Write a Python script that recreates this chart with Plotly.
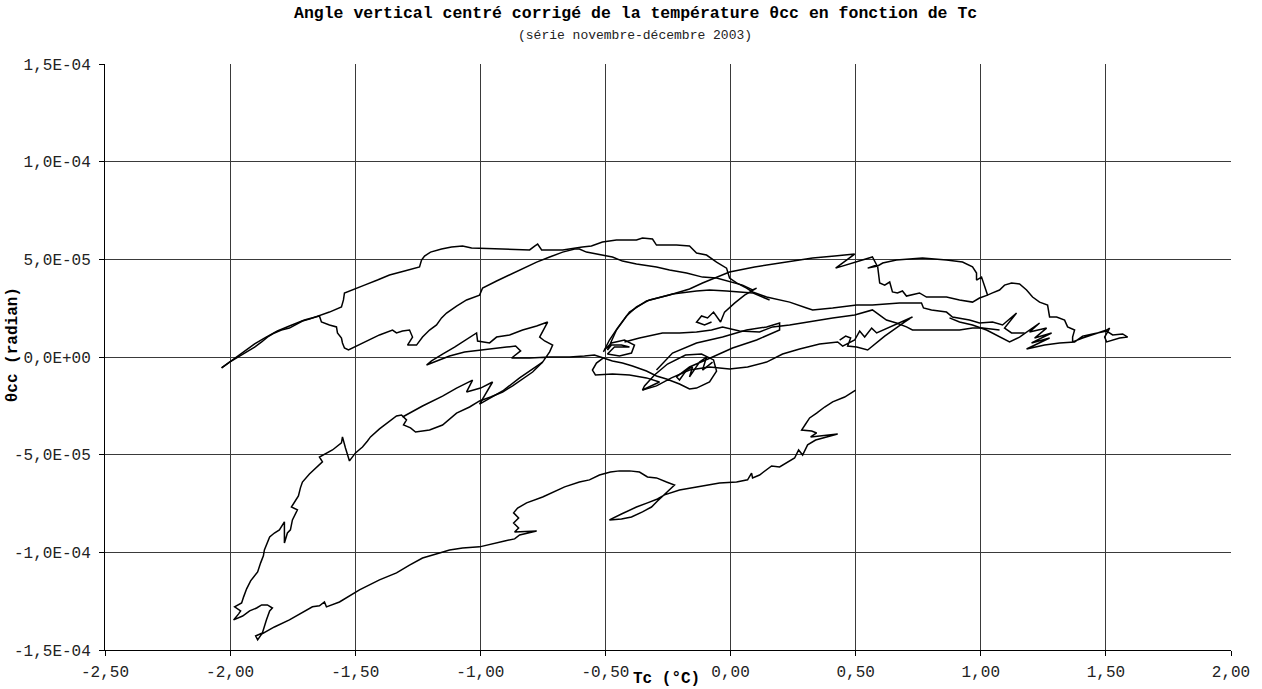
import plotly.graph_objects as go

# Values: Tc (°C) and theta_cc in units of 1e-5 radian
# Stroke A: lower path from (0.5,-1.7e-5) down to the bottom, back up the left side, feathers, zero line, centre
tcA = [0.500,0.456,0.408,0.376,0.344,0.316,0.300,0.284,0.324,0.344,0.320,0.428,0.340,0.308,0.288,0.272,0.256,0.228,0.196,0.164,
       0.140,0.116,0.088,0.084,0.068,0.024,-0.044,-0.136,-0.204,-0.264,-0.292,-0.332,-0.376,-0.436,-0.484,-0.436,-0.396,-0.352,-0.316,-0.292,
       -0.264,-0.224,-0.256,-0.296,-0.332,-0.364,-0.404,-0.444,-0.480,-0.524,-0.564,-0.604,-0.663,-0.715,-0.751,-0.815,-0.851,-0.867,-0.847,-0.867,
       -0.847,-0.863,-0.775,-0.843,-0.863,-0.903,-0.963,-1.003,-1.071,-1.123,-1.163,-1.231,-1.283,-1.335,-1.403,-1.483,-1.563,-1.615,-1.623,-1.643,
       -1.671,-1.723,-1.763,-1.823,-1.874,-1.890,-1.898,-1.871,-1.863,-1.855,-1.842,-1.831,-1.851,-1.874,-1.894,-1.922,-1.950,-1.986,-1.966,-1.958,
       -1.982,-1.954,-1.946,-1.934,-1.918,-1.898,-1.890,-1.878,-1.867,-1.863,-1.851,-1.842,-1.823,-1.803,-1.783,-1.783,-1.771,-1.759,-1.751,-1.739,
       -1.731,-1.755,-1.739,-1.727,-1.719,-1.711,-1.683,-1.659,-1.631,-1.643,-1.591,-1.555,-1.551,-1.539,-1.523,-1.499,-1.471,-1.451,-1.439,-1.403,
       -1.363,-1.335,-1.315,-1.295,-1.307,-1.279,-1.259,-1.203,-1.151,-1.095,-1.043,-1.003,-0.959,-0.911,-0.871,-0.835,-0.791,-0.751,-0.723,-0.711,
       -0.743,-0.763,-0.731,-0.775,-0.831,-0.883,-0.935,-0.963,-1.011,-1.015,-1.063,-1.103,-1.151,-1.195,-1.215,-1.175,-1.123,-1.063,-1.003,-0.943,
       -0.895,-0.859,-0.839,-0.875,-0.803,-0.723,-0.643,-0.584,-0.544,-0.508,-0.472,-0.432,-0.392,-0.336,-0.296,-0.256,-0.204,-0.164,-0.136,-0.084,
       -0.056,-0.068,-0.116,-0.180,-0.252,-0.304,-0.344,-0.352,-0.296,-0.236,-0.164,-0.084,-0.004,0.068,0.144,0.208,0.276,0.356,0.428,0.448,
       0.496,0.516,0.536,0.564,0.584,0.727,0.695,0.616,0.548,0.504,0.468,0.480,0.460,0.436]
thA = [-1.69,-2.05,-2.30,-2.56,-2.87,-3.12,-3.43,-3.74,-3.79,-3.89,-4.09,-3.94,-4.25,-4.50,-5.02,-4.76,-5.17,-5.37,-5.63,-5.58,
       -5.83,-6.04,-6.19,-5.94,-6.29,-6.40,-6.45,-6.65,-6.81,-7.06,-7.27,-7.47,-7.68,-8.04,-8.34,-8.29,-8.19,-7.93,-7.68,-7.37,
       -7.01,-6.55,-6.40,-6.19,-6.14,-5.89,-5.83,-5.83,-5.89,-6.04,-6.29,-6.40,-6.65,-6.96,-7.17,-7.47,-7.73,-7.98,-8.24,-8.50,
       -8.75,-8.96,-8.91,-9.11,-9.31,-9.42,-9.62,-9.72,-9.78,-9.88,-10.03,-10.29,-10.65,-11.05,-11.41,-11.92,-12.54,-12.79,-12.54,-12.74,
       -12.79,-13.15,-13.46,-13.82,-14.18,-14.48,-14.28,-14.13,-13.77,-13.46,-13.00,-12.85,-12.69,-12.69,-12.85,-13.00,-13.26,-13.46,-13.15,-13.00,
       -12.79,-12.59,-12.28,-11.87,-11.46,-11.16,-11.00,-10.54,-10.18,-9.88,-9.47,-9.21,-9.01,-8.85,-8.44,-9.52,-9.01,-8.85,-8.34,-7.98,
       -7.83,-7.68,-7.32,-7.11,-6.70,-6.40,-5.99,-5.68,-5.37,-5.12,-4.76,-4.40,-4.09,-4.66,-5.32,-4.91,-4.61,-4.30,-4.09,-3.68,
       -3.28,-3.02,-2.97,-3.22,-3.48,-3.63,-3.84,-3.74,-3.48,-2.87,-2.56,-2.25,-2.05,-1.79,-1.48,-1.18,-0.77,-0.26,0.26,0.61,
       0.82,1.02,1.79,1.59,1.38,1.13,1.02,0.72,0.82,1.23,0.82,0.51,0.15,-0.20,-0.41,-0.20,0.05,0.26,0.36,0.46,
       0.51,0.56,0.31,-0.05,-0.05,0.00,0.00,0.05,0.10,-0.05,-0.20,-0.31,-0.46,-0.72,-0.97,-1.13,-1.38,-1.64,-1.59,-1.28,
       -0.72,-0.15,0.15,0.10,-0.36,-0.92,-1.48,-1.69,-1.48,-1.07,-0.67,-0.51,-0.61,-0.51,-0.26,0.15,0.41,0.67,0.77,0.56,
       0.87,1.33,1.02,1.48,1.23,2.05,1.79,1.07,0.36,0.51,0.56,0.97,1.07,0.87]

# Stroke B: upper edge of the lower-left feather
tcB = [-1.311,-1.231,-1.151,-1.095,-1.031,-1.055,-0.999,-0.951,-1.003,-0.911,-0.843,-0.783,-0.751]
thB = [-3.07,-2.51,-2.00,-1.59,-1.18,-1.79,-1.59,-1.28,-2.41,-1.74,-1.07,-0.56,-0.26]

# Stroke C: upper line from the left tip across the top to the right
tcC = [-2.034,-2.002,-1.962,-1.934,-1.902,-1.874,-1.851,-1.823,-1.795,-1.763,-1.735,-1.711,-1.683,-1.643,-1.603,-1.555,-1.547,-1.543,-1.511,-1.463,
       -1.411,-1.363,-1.303,-1.243,-1.235,-1.223,-1.199,-1.155,-1.115,-1.071,-1.035,-0.923,-0.803,-0.783,-0.771,-0.755,-0.671,-0.592,-0.556,-0.512,
       -0.456,-0.376,-0.352,-0.312,-0.296,-0.216,-0.164,-0.136,-0.096,-0.056,-0.016,-0.004,0.024,0.064,0.088,0.144,0.236,0.304,0.328,0.408,
       0.504,0.567,0.675,0.763,0.771,0.803,0.863,0.887,0.955,0.995,1.047,1.087,1.143,1.095,1.123,1.175]
thC = [-0.56,-0.26,0.05,0.26,0.51,0.77,1.02,1.23,1.38,1.48,1.69,1.84,1.94,2.10,2.30,2.56,2.92,3.28,3.43,3.68,
       3.94,4.20,4.40,4.61,4.96,5.17,5.37,5.53,5.63,5.68,5.58,5.53,5.48,5.68,5.78,5.48,5.48,5.63,5.68,5.89,
       5.99,5.99,6.09,6.04,5.73,5.73,5.68,5.32,5.22,4.86,4.55,4.04,3.79,3.53,3.33,3.07,2.81,2.51,2.41,2.51,
       2.66,2.66,2.76,2.76,2.51,2.41,2.30,2.05,1.89,1.74,1.79,1.64,2.25,1.48,1.23,1.23]

# Stroke D: return line from the left tip, rising to the top, then the zigzag in the centre
tcD = [-2.034,-1.994,-1.950,-1.902,-1.863,-1.811,-1.763,-1.703,-1.643,-1.635,-1.603,-1.575,-1.571,-1.555,-1.551,-1.543,-1.527,-1.511,-1.475,-1.443,
       -1.403,-1.351,-1.335,-1.311,-1.283,-1.271,-1.291,-1.255,-1.231,-1.203,-1.175,-1.155,-1.135,-1.095,-1.055,-1.003,-0.991,-0.935,-0.883,-0.823,
       -0.775,-0.723,-0.671,-0.623,-0.604,-0.576,-0.512,-0.472,-0.432,-0.376,-0.296,-0.244,-0.176,-0.112,-0.056,-0.004,0.048,0.088,0.104,0.056,
       0.016,-0.024,-0.040,-0.068,-0.092,-0.116,-0.136,-0.104,-0.076]
thD = [-0.56,-0.20,0.20,0.67,0.97,1.33,1.59,1.89,2.10,1.79,1.64,1.54,1.23,0.97,0.72,0.46,0.36,0.46,0.67,0.87,
       1.13,1.38,1.23,1.33,1.38,1.02,0.61,0.61,1.02,1.38,1.64,2.00,2.25,2.61,2.92,3.17,3.53,3.89,4.20,4.55,
       4.86,5.12,5.37,5.53,5.53,5.37,5.22,5.12,4.91,4.76,4.61,4.45,4.30,4.09,4.04,3.84,3.68,3.43,3.53,3.17,
       2.76,2.30,1.79,2.30,2.00,2.10,1.79,1.64,1.79]

# Stroke E: rising line to the right, upper-right loop, right end and hatched return
tcE = [-0.508,-0.484,-0.452,-0.416,-0.376,-0.324,-0.244,-0.164,-0.112,-0.056,-0.004,0.096,0.196,0.328,0.416,0.496,0.420,0.496,0.567,0.584,
       0.548,0.588,0.608,0.663,0.715,0.767,0.863,0.927,0.967,0.983,0.983,1.003,1.015,1.027,1.047,1.075,1.095,1.123,1.155,1.183,
       1.207,1.235,1.267,1.275,1.303,1.335,1.347,1.375,1.367,1.367,1.407,1.463,1.503,1.515,1.495,1.503,1.527,1.555,1.587,1.567,
       1.527,1.503,1.447,1.407,1.375,1.315,1.255,1.183,1.275,1.203,1.283,1.215,1.263,1.195,1.235,1.155,1.115,1.075,1.023,0.967,
       0.915,0.875]
thE = [0.26,0.87,1.48,2.10,2.56,2.92,3.17,3.48,3.79,4.09,4.35,4.61,4.81,5.07,5.17,5.27,4.55,4.86,5.12,4.71,
       4.55,4.66,4.81,4.96,5.02,5.07,4.96,4.86,4.61,4.30,3.94,4.09,3.63,3.17,3.28,3.43,3.68,3.79,3.74,3.43,
       3.07,2.81,2.66,2.05,2.05,1.89,1.54,1.38,1.02,0.77,0.97,1.23,1.38,1.48,1.02,0.77,0.87,0.97,1.02,1.18,
       1.13,1.33,1.18,1.07,0.77,0.72,0.61,0.41,0.97,0.72,1.23,0.97,1.48,1.28,1.74,1.02,0.77,1.02,1.38,1.64,
       1.79,2.00]

# Stroke F: zigzag inside the upper-right loop
tcF = [0.588,0.596,0.616,0.636,0.647,0.667,0.687,0.703,0.755,0.783,0.863,0.915,0.967,0.995,1.027]
thF = [4.61,3.79,3.68,3.84,3.33,3.28,3.38,3.12,3.28,3.07,3.07,2.92,2.81,3.02,3.17]

# Stroke G: middle line from the centre to the right
tcG = [-0.424,-0.364,-0.272,-0.204,-0.136,-0.076,-0.032,0.036,0.116,0.168,0.236,0.304,0.408,0.496,0.567,0.623,0.663,0.703,0.727,0.835,
       0.915,0.967,1.007,1.075]
thG = [0.77,0.97,1.23,1.23,1.28,1.38,1.54,1.33,1.28,1.54,1.64,1.79,2.00,2.15,2.41,1.89,1.74,1.54,1.38,1.38,
       1.38,1.48,1.48,1.38]

# Stroke H: loops in the centre
tcH = [-0.296,-0.232,-0.136,-0.032,0.064,0.144,0.196,0.196,0.104,0.008,-0.072,-0.164,-0.216,-0.204,-0.176,-0.152,-0.164,-0.124,-0.096,-0.112,
       -0.072]
thH = [-0.67,0.20,0.72,1.02,1.38,1.54,1.74,1.38,0.87,0.46,0.00,-0.51,-1.02,-1.18,-0.67,-0.51,-1.02,-0.26,0.00,-0.67,
       -0.26]

# Stroke I: small knot left of centre and the line rising from it
tcI = [-0.504,-0.476,-0.424,-0.384,-0.396,-0.444,-0.492,-0.464,-0.404,-0.436,-0.476,-0.492,-0.456,-0.404,-0.336,-0.232,-0.136,-0.084,-0.016,0.088,
       0.156]
thI = [0.36,0.72,0.87,0.61,0.20,0.05,0.15,0.51,0.51,0.61,0.61,0.36,1.38,2.30,2.87,3.22,3.38,3.43,3.38,3.28,
       2.92]

# Stroke J: lower-left loop of the central tangle
tcJ = [-0.508,-0.536,-0.552,-0.540,-0.472,-0.404,-0.336,-0.284,-0.352]
thJ = [-0.05,-0.31,-0.67,-0.92,-0.87,-0.92,-1.07,-1.28,-1.69]

x_ticks = [-2.5, -2.0, -1.5, -1.0, -0.5, 0.0, 0.5, 1.0, 1.5, 2.0]
x_ticklabels = ["-2,50", "-2,00", "-1,50", "-1,00", "-0,50", "0,00", "0,50", "1,00", "1,50", "2,00"]
y_ticks = [-1.5e-4, -1.0e-4, -5e-5, 0.0, 5e-5, 1.0e-4, 1.5e-4]
y_ticklabels = ["-1,5E-04", "-1,0E-04", "-5,0E-05", "0,0E+00", "5,0E-05", "1,0E-04", "1,5E-04"]

UNIT = 1e-5
strokes = [(tcA, thA), (tcB, thB), (tcC, thC), (tcD, thD), (tcE, thE),
           (tcF, thF), (tcG, thG), (tcH, thH), (tcI, thI), (tcJ, thJ)]
xs, ys = [], []
for tx, ty in strokes:
    xs += list(tx) + [None]
    ys += [v * UNIT for v in ty] + [None]

FONT = "Courier New, Liberation Mono, monospace"

fig = go.Figure()
fig.add_trace(go.Scatter(x=xs, y=ys, mode="lines", connectgaps=False,
                         line=dict(color="#000000", width=1.5), showlegend=False,
                         hoverinfo="skip"))

fig.update_layout(
    width=1262, height=689,
    margin=dict(l=105, r=31, t=64, b=39, autoexpand=False),
    paper_bgcolor="white", plot_bgcolor="white",
    font=dict(family=FONT, size=16, color="#000000"),
    showlegend=False,
    xaxis=dict(range=[-2.5, 2.0], tickvals=x_ticks, ticktext=x_ticklabels,
               showgrid=True, gridcolor="#3a3a3a", gridwidth=1, automargin=False,
               showline=True, linecolor="#000000", linewidth=1, mirror=False,
               ticks="outside", ticklen=5, tickcolor="#000000", ticklabelstandoff=2,
               zeroline=False, tickfont=dict(family=FONT, size=16, color="#222222")),
    yaxis=dict(range=[-1.5e-4, 1.5e-4], tickvals=y_ticks, ticktext=y_ticklabels,
               showgrid=True, gridcolor="#3a3a3a", gridwidth=1, automargin=False,
               showline=True, linecolor="#000000", linewidth=1,
               ticks="outside", ticklen=5, tickcolor="#000000", ticklabelstandoff=5,
               zeroline=False, tickfont=dict(family=FONT, size=16, color="#222222")),
    annotations=[
        dict(text="<b>Angle vertical centré corrigé de la température θcc en fonction de Tc</b>",
             xref="paper", yref="paper", x=0.4707, y=1.0870, xanchor="center", yanchor="middle",
             showarrow=False, font=dict(family=FONT, size=16.5, color="#000000")),
        dict(text="(série novembre-décembre 2003)",
             xref="paper", yref="paper", x=0.4707, y=1.0478, xanchor="center", yanchor="middle",
             showarrow=False, font=dict(family=FONT, size=13, color="#222222")),
        dict(text="<b>θcc (radian)</b>", textangle=-90,
             xref="paper", yref="paper", x=-0.0817, y=0.52, xanchor="center", yanchor="middle",
             showarrow=False, font=dict(family=FONT, size=16, color="#000000")),
        dict(text="<b>Tc (°C)</b>",
             xref="paper", yref="paper", x=0.499, y=-0.0495, xanchor="center", yanchor="middle",
             showarrow=False, font=dict(family=FONT, size=16, color="#000000")),
    ],
)

fig.write_html("out.html", config={"displayModeBar": False},
               post_script="document.body.style.margin='0';")
